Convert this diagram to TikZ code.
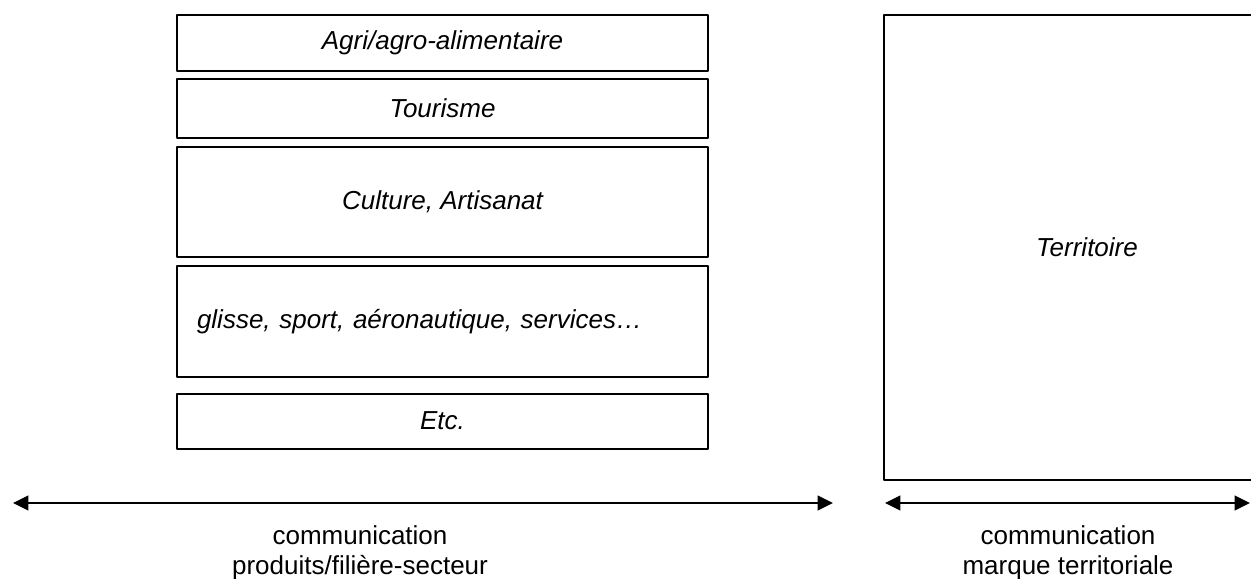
\documentclass[tikz,border=0pt]{standalone}
\usepackage{fontspec}
\setmainfont{Liberation Sans}
\usetikzlibrary{positioning,arrows.meta}
\begin{document}
\begin{tikzpicture}[x=0.75pt,y=-0.75pt, line join=round,
  font=\fontsize{19.5}{22.5}\selectfont,
  >={Triangle[length=11.5pt,width=11pt]},
  secteur/.style={draw, line width=1.3pt, minimum width=398.25pt, inner sep=0pt, outer sep=0pt,
    font=\fontsize{19.5}{22.5}\selectfont\itshape},
  fleche/.style={<->, line width=1.5pt},
  legende/.style={align=center, anchor=base}]
\useasboundingbox (0,0) rectangle (1251,578);
\clip (0,0) rectangle (1251,578);
% filieres
\node[secteur, minimum height=42pt, anchor=north west] (agri) at (177,15) {Agri/agro-alimentaire};
\node[secteur, minimum height=44.25pt, below=6pt of agri] (tourisme) {Tourisme};
\node[secteur, minimum height=82.5pt, below=6.75pt of tourisme] (culture) {Culture, Artisanat};
\node[secteur, minimum height=83pt, below=6.75pt of culture, text width=368.25pt, inner xsep=15pt, align=left] (glisse) {glisse, sport, aéronautique, services…};
\node[secteur, minimum height=41.25pt, below=12.75pt of glisse] (etc) {Etc.};
% territoire
\node[secteur, minimum width=304.5pt, minimum height=348.75pt, anchor=north west] (territoire) at (884,15) {Territoire};
% fleches
\coordinate (g1) at (13,503); \coordinate (g2) at (833,503);
\coordinate (d1) at (885,503); \coordinate (d2) at (1250,503);
\draw[fleche] (g1) -- (g2);
\draw[fleche] (d1) -- (d2);
\node[legende] (comprod) at (360,574) {communication\\produits/filière-secteur};
\node[legende] (commarque) at (1068,574) {communication\\marque territoriale};
\end{tikzpicture}
\end{document}
